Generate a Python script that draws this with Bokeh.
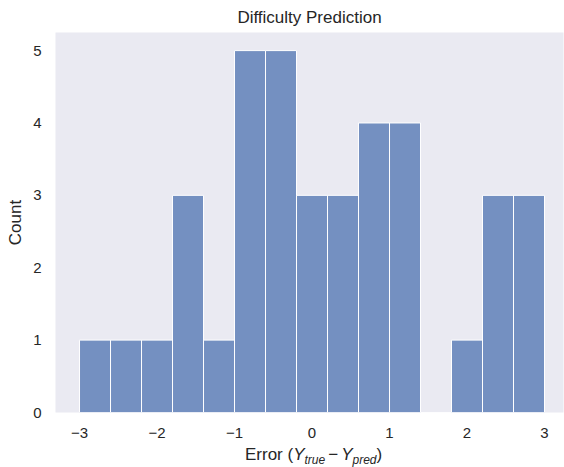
from bokeh.plotting import figure
from bokeh.models import Range1d, FixedTicker, Div
from bokeh.layouts import column
from bokeh.embed import file_html
from bokeh.resources import INLINE

# Histogram data (bin edges and counts)
bin_edges = [-3.0, -2.6, -2.2, -1.8, -1.4, -1.0, -0.6, -0.2, 0.2, 0.6, 1.0, 1.4, 1.8, 2.2, 2.6, 3.0]
counts = [1, 1, 1, 3, 1, 5, 5, 3, 3, 4, 4, 0, 1, 3, 3]
x_ticks = [-3, -2, -1, 0, 1, 2, 3]
y_ticks = [0, 1, 2, 3, 4, 5]

FONT = "Liberation Sans"
TXT = "#262626"

p = figure(width=564, height=447, output_backend="svg", toolbar_location=None,
           x_range=Range1d(-3.31, 3.245), y_range=Range1d(0, 5.25),
           min_border_left=55, min_border_right=1, min_border_top=32, min_border_bottom=35,
           title="Difficulty Prediction")

p.background_fill_color = "#EAEAF2"
p.border_fill_color = "white"
p.outline_line_color = None
p.xgrid.visible = False
p.ygrid.visible = False

p.title.align = "center"
p.title.text_font = FONT
p.title.text_font_size = "17px"
p.title.text_font_style = "normal"
p.title.text_color = TXT
p.title.standoff = 11

lefts = bin_edges[:-1]
rights = bin_edges[1:]
p.quad(left=lefts, right=rights, bottom=[0] * len(counts), top=counts,
       fill_color="#4C72B0", fill_alpha=0.75, line_color="white", line_width=1)

for ax in (p.xaxis[0], p.yaxis[0]):
    ax.axis_line_color = None
    ax.major_tick_line_color = None
    ax.minor_tick_line_color = None
    ax.major_tick_out = 0
    ax.major_tick_in = 0
    ax.minor_tick_out = 0
    ax.minor_tick_in = 0
    ax.major_label_text_font = FONT
    ax.major_label_text_font_size = "15px"
    ax.major_label_text_color = TXT

p.xaxis[0].ticker = FixedTicker(ticks=x_ticks)
p.xaxis[0].major_label_overrides = {t: (("\u2212" + str(abs(t))) if t < 0 else str(t)) for t in x_ticks}
p.xaxis[0].major_label_standoff = 15

p.yaxis[0].ticker = FixedTicker(ticks=y_ticks)
p.yaxis[0].major_label_standoff = 14
p.yaxis[0].axis_label = "Count"
p.yaxis[0].axis_label_text_font = FONT
p.yaxis[0].axis_label_text_font_size = "17px"
p.yaxis[0].axis_label_text_font_style = "normal"
p.yaxis[0].axis_label_text_color = TXT
p.yaxis[0].axis_label_standoff = 5

# x-axis label with subscripts as HTML text
xlabel_html = (
    '<span style="position:relative;top:-2px;white-space:nowrap;">Error ('
    '<i>Y</i><i style="font-size:12px;position:relative;top:4px;">true</i>'
    '<span style="margin:0 3px;">\u2212</span>'
    '<i>Y</i><i style="font-size:12px;position:relative;top:4px;">pred</i>)</span>'
)
xlabel = Div(text=xlabel_html, width=564, height=20, margin=(0, 0, 0, 0),
             styles={"font-family": FONT, "font-size": "17px", "color": TXT,
                     "line-height": "20px", "padding-left": "245px",
                     "box-sizing": "border-box", "overflow": "visible"})

layout = column(p, xlabel, spacing=0)
open("out.html", "w").write(file_html(layout, INLINE))
